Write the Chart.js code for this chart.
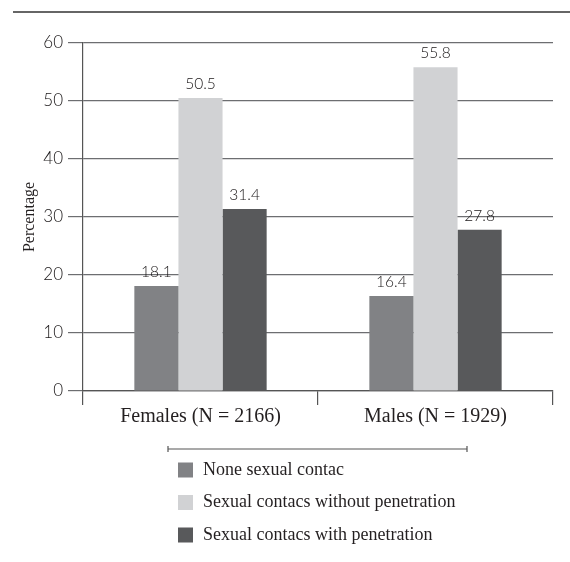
<!DOCTYPE html>
<html>
<head>
<meta charset="utf-8">
<script src="https://cdn.jsdelivr.net/npm/chart.js@4"></script>
<style>
  html, body { margin: 0; padding: 0; background: #fff; }
  #wrap { width: 570px; height: 562px; }
</style>
</head>
<body>
<div id="wrap"><canvas id="chart" width="570" height="562"></canvas></div>
<script>
var groups = ['Females (N = 2166)', 'Males (N = 1929)'];
var noneContact = [18.1, 16.4];
var withoutPenetration = [50.5, 55.8];
var withPenetration = [31.4, 27.8];
var seriesNames = ['None sexual contac', 'Sexual contacs without penetration', 'Sexual contacs with penetration'];
var seriesColors = ['#818285', '#d1d2d4', '#58595b'];
var yTicks = [0, 10, 20, 30, 40, 50, 60];

var serif = '"Liberation Serif", "DejaVu Serif", serif';
var sans = 'Lato, "Open Sans", sans-serif';

// value labels, top rule, legend block
var extras = {
  id: 'extras',
  afterDatasetsDraw: function(chart) {
    var ctx = chart.ctx;
    ctx.save();
    ctx.fillStyle = '#1a1718';
    ctx.font = '300 15.5px ' + sans;
    ctx.textAlign = 'center';
    ctx.textBaseline = 'alphabetic';
    chart.data.datasets.forEach(function(ds, i) {
      chart.getDatasetMeta(i).data.forEach(function(bar, j) {
        ctx.fillText(ds.data[j].toFixed(1), bar.x, bar.y - 9);
      });
    });
    ctx.restore();
  },
  afterDraw: function(chart) {
    var ctx = chart.ctx;
    ctx.save();
    // top rule
    ctx.strokeStyle = '#333';
    ctx.lineWidth = 1.5;
    ctx.beginPath();
    ctx.moveTo(13, 12);
    ctx.lineTo(570, 12);
    ctx.stroke();
    // bracket line above legend
    ctx.strokeStyle = '#555';
    ctx.lineWidth = 1.2;
    ctx.beginPath();
    ctx.moveTo(168, 449); ctx.lineTo(467, 449);
    ctx.moveTo(168, 446); ctx.lineTo(168, 452);
    ctx.moveTo(467, 446); ctx.lineTo(467, 452);
    ctx.stroke();
    // legend entries
    ctx.font = '18px ' + serif;
    ctx.textAlign = 'left';
    ctx.textBaseline = 'middle';
    chart.data.datasets.forEach(function(ds, i) {
      var cy = 470 + i * 32.5;
      ctx.fillStyle = ds.backgroundColor;
      ctx.fillRect(178, cy - 7.5, 15, 15);
      ctx.fillStyle = '#231f20';
      ctx.fillText(ds.label, 203, cy);
    });
    ctx.restore();
  }
};

var ctx = document.getElementById('chart').getContext('2d');
var myChart = new Chart(ctx, {
  type: 'bar',
  data: {
    labels: groups,
    datasets: [
      { label: seriesNames[0], data: noneContact, backgroundColor: seriesColors[0] },
      { label: seriesNames[1], data: withoutPenetration, backgroundColor: seriesColors[1] },
      { label: seriesNames[2], data: withPenetration, backgroundColor: seriesColors[2] }
    ]
  },
  options: {
    responsive: false,
    animation: false,
    devicePixelRatio: 1,
    layout: { padding: { top: 43, right: 17, left: 0, bottom: 0 } },
    datasets: { bar: { barPercentage: 1, categoryPercentage: 0.563 } },
    plugins: { legend: { display: false }, tooltip: { enabled: false } },
    scales: {
      x: {
        grid: { drawOnChartArea: false, drawTicks: true, tickLength: 14, color: '#555', lineWidth: 1.2 },
        border: { color: '#555', width: 1.2 },
        ticks: { color: '#231f20', font: { family: serif, size: 20 }, padding: 0 },
        afterFit: function(scale) { scale.height = 171; }
      },
      y: {
        min: 0, max: 60,
        afterBuildTicks: function(scale) { scale.ticks = yTicks.map(function(v) { return { value: v }; }); },
        grid: { color: '#6d6e71', lineWidth: 1.2, tickLength: 15 },
        border: { color: '#555', width: 1.2 },
        ticks: { color: '#1a1718', font: { family: sans, size: 17, weight: '300' }, padding: 5 },
        title: { display: true, text: 'Percentage', color: '#231f20', font: { family: serif, size: 16 }, padding: { top: 20 } },
        afterFit: function(scale) { scale.width = 83; }
      }
    }
  },
  plugins: [extras]
});
</script>
</body>
</html>
